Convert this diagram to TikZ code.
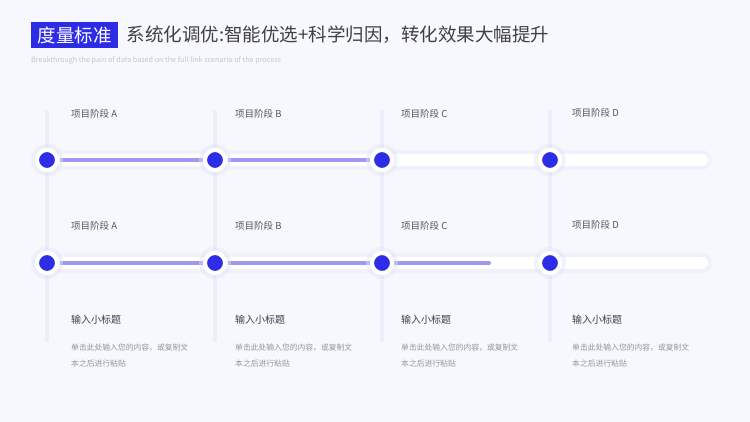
\documentclass[tikz,border=0pt]{standalone}
\usepackage{fontspec}
\setmainfont{Noto Sans CJK SC}
\usetikzlibrary{positioning,backgrounds}
\definecolor{PageBg}{RGB}{247,248,253}
\definecolor{TitleBlue}{RGB}{44,44,230}
\definecolor{TitleGray}{RGB}{64,64,64}
\definecolor{DotBlue}{RGB}{45,45,232}
\definecolor{BarPurple}{RGB}{156,153,242}
\definecolor{RailGray}{RGB}{236,238,250}
\definecolor{GlowBlue}{RGB}{226,229,250}
\definecolor{LabelGray}{RGB}{85,85,85}
\definecolor{NoteGray}{RGB}{150,150,150}
\definecolor{SubGray}{RGB}{195,198,208}

\begin{document}
\begin{tikzpicture}[x=1pt, y=-1pt,
    badge/.style={fill=TitleBlue, text=white, inner xsep=6.5pt, inner ysep=0pt, minimum height=26pt, font=\fontsize{18.5}{18.5}\selectfont},
    headline/.style={text=TitleGray, inner sep=0pt, font=\fontsize{18.5}{18.5}\selectfont},
    stage/.style={anchor=west, inner sep=0pt, text=LabelGray, font=\fontsize{9.5}{9.5}\selectfont},
    subhead/.style={anchor=west, inner sep=0pt, text=TitleGray, font=\fontsize{10}{10}\selectfont},
    note/.style={anchor=west, inner sep=0pt, align=left, text=NoteGray, font=\fontsize{7.8}{16}\selectfont},
    dot/.style={circle, fill=DotBlue, draw=white, line width=4pt, minimum size=20pt, inner sep=0pt},
    halo/.style={circle, fill=GlowBlue, opacity=0.45, minimum size=32pt, inner sep=0pt},
    rail/.style={draw=RailGray, line width=4pt, line cap=round},
    glow/.style={draw=GlowBlue, line width=20pt, line cap=round, opacity=0.35},
    track/.style={draw=white, line width=12pt, line cap=round},
    bar/.style={draw=BarPurple, line width=4pt, shorten <=1pt, shorten >=-2pt}
  ]
    \useasboundingbox (0,0) rectangle (750,422);

    % title
    \node[badge, anchor=west] (badge) at (31,35) {度量标准};
    \node[headline, right=8pt of badge] (title) {系统化调优:智能优选+科学归因，转化效果大幅提升};
    \node[anchor=west, inner sep=0pt, text=SubGray, font=\fontsize{7.2}{7.2}\selectfont] (sub) at (31,60)
      {Breakthrough the pain of data based on the full link scenario of the process};

    % stage dots
    \node[halo] at (47,160) {};
    \node[halo] at (215,160) {};
    \node[halo] at (382,160) {};
    \node[halo] at (550,160) {};
    \node[halo] at (47,263) {};
    \node[halo] at (215,263) {};
    \node[halo] at (382,263) {};
    \node[halo] at (550,263) {};
    \node[dot] (a1) at (47,160) {};
    \node[dot] (b1) at (215,160) {};
    \node[dot] (c1) at (382,160) {};
    \node[dot] (d1) at (550,160) {};
    \node[dot] (a2) at (47,263) {};
    \node[dot] (b2) at (215,263) {};
    \node[dot] (c2) at (382,263) {};
    \node[dot] (d2) at (550,263) {};
    \coordinate (end1) at (702,160);
    \coordinate (end2) at (702,263);
    \coordinate (now2) at (491,263);

    % rails and tracks behind the dots
    \begin{pgfonlayer}{background}
      \fill[PageBg] (0,0) rectangle (750,422);
      \coordinate (ta) at (47,112);   \coordinate (ba) at (47,340);
      \coordinate (tb) at (215,112);  \coordinate (bb) at (215,340);
      \coordinate (tc) at (382,112);  \coordinate (bc) at (382,340);
      \coordinate (td) at (550,112);  \coordinate (bd) at (550,340);
      \draw[rail] (ta) -- (ba);
      \draw[rail] (tb) -- (bb);
      \draw[rail] (tc) -- (bc);
      \draw[rail] (td) -- (bd);
      \draw[glow] (a1) -- (end1);
      \draw[glow] (a2) -- (end2);
      \draw[track] (a1) -- (end1);
      \draw[track] (a2) -- (end2);
      \draw[bar] (a1) -- (b1);
      \draw[bar] (b1) -- (c1);
      \draw[bar] (a2) -- (b2);
      \draw[bar] (b2) -- (c2);
      \draw[bar, line cap=round, shorten >=2pt] (c2) -- (now2);
    \end{pgfonlayer}

    % labels
    \node[stage] (la1) at (71,114) {项目阶段 A};
    \node[stage] (lb1) at (235,114) {项目阶段 B};
    \node[stage] (lc1) at (401,114) {项目阶段 C};
    \node[stage] (ld1) at (572,113) {项目阶段 D};
    \node[stage] (la2) at (71,226) {项目阶段 A};
    \node[stage] (lb2) at (235,226) {项目阶段 B};
    \node[stage] (lc2) at (401,226) {项目阶段 C};
    \node[stage] (ld2) at (572,225) {项目阶段 D};

    \node[subhead] (ha) at (71,320) {输入小标题};
    \node[subhead] (hb) at (235,320) {输入小标题};
    \node[subhead] (hc) at (401,320) {输入小标题};
    \node[subhead] (hd) at (572,320) {输入小标题};

    \node[note] (na) at (71,356) {单击此处输入您的内容，或复制文\\本之后进行粘贴};
    \node[note] (nb) at (235,356) {单击此处输入您的内容，或复制文\\本之后进行粘贴};
    \node[note] (nc) at (401,356) {单击此处输入您的内容，或复制文\\本之后进行粘贴};
    \node[note] (nd) at (572,356) {单击此处输入您的内容，或复制文\\本之后进行粘贴};
  \end{tikzpicture}
\end{document}
